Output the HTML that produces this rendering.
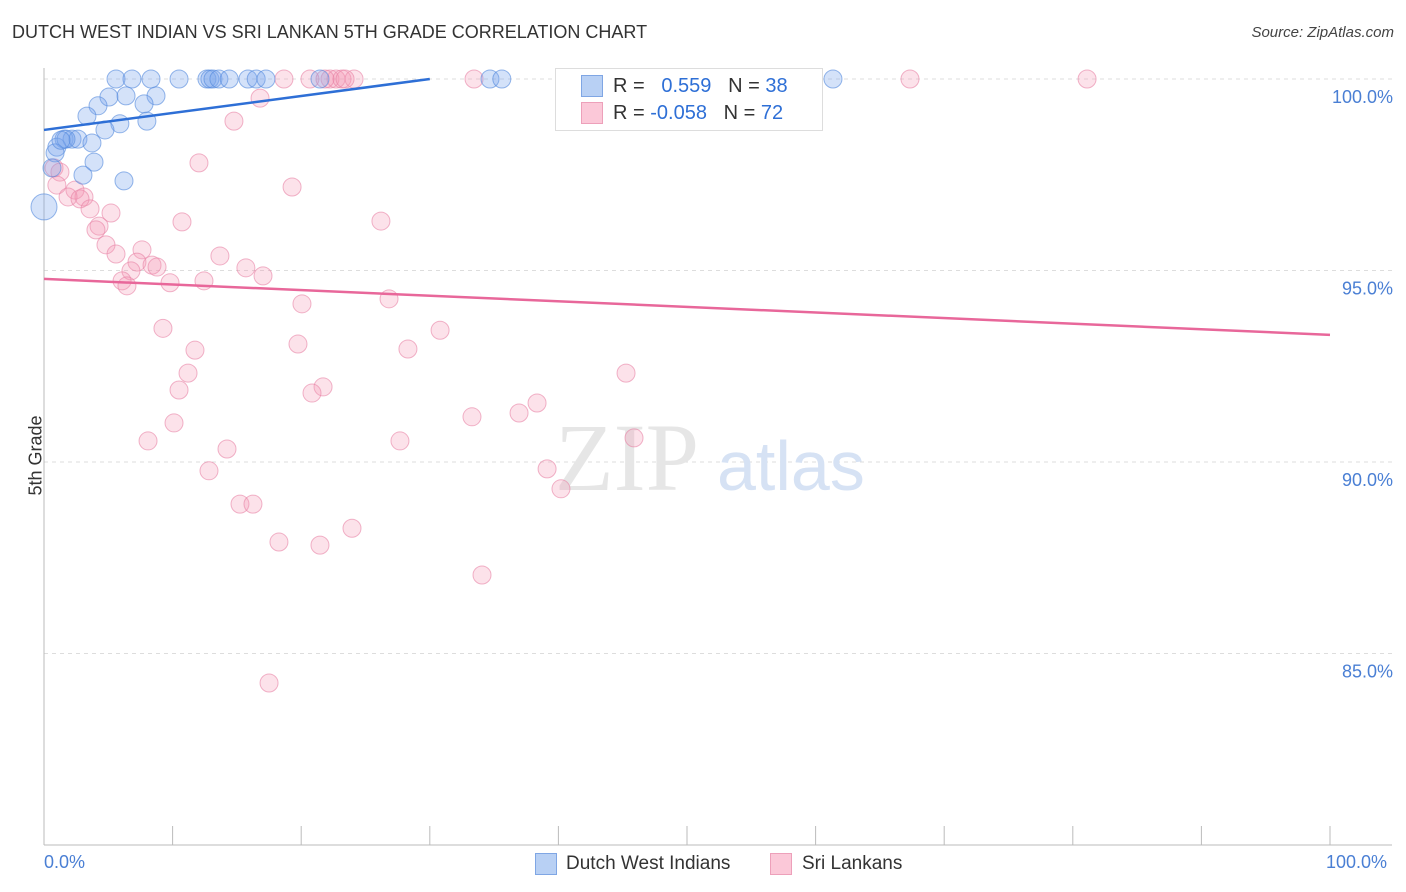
<!DOCTYPE html>
<html><head><meta charset="utf-8"><style>
body{margin:0;background:#fff;font-family:"Liberation Sans",sans-serif}
#wrap{position:relative;width:1406px;height:892px}
.t{position:absolute;white-space:nowrap}
</style></head><body>
<div id="wrap">
<div class="t" style="left:12px;top:22px;font-size:18px;color:#333">DUTCH WEST INDIAN VS SRI LANKAN 5TH GRADE CORRELATION CHART</div>
<div class="t" style="right:12px;top:24px;font-size:15px;color:#444;font-style:italic">Source: ZipAtlas.com</div>
<svg id="svg" width="1406" height="892" style="position:absolute;left:0;top:0"></svg>
</div>
<script>
const yTicks=[100,95,90,85];
const yTickLabels=["100.0%","95.0%","90.0%","85.0%"];
const blueX=[5.6,6.84,8.32,10.5,12.67,12.9,13.14,13.6,14.4,15.86,16.5,17.26,21.46,34.68,35.6,61.35,5.05,6.38,8.71,4.2,7.78,3.34,5.9,8.0,4.74,1.56,2.18,2.64,3.73,1.0,0.86,3.89,3.03,6.22,0.62,0,1.71,1.32];
const blueY=[100,100,100,100,100,100,100,100,100,100,100,100,100,100,100,100,99.53,99.56,99.56,99.3,99.35,99.03,98.83,98.9,98.67,98.43,98.43,98.43,98.33,98.22,98.07,97.83,97.49,97.34,97.68,96.66,98.43,98.4];
const pinkX=[18.66,20.68,22.24,22.71,23.17,24.11,33.44,41.68,67.34,81.11,21.85,23.41,16.8,14.77,12.05,19.29,10.73,26.2,0.78,1.24,1.0,2.41,3.11,1.87,2.8,3.58,5.21,4.28,4.04,4.82,5.6,7.62,7.23,6.76,8.4,8.79,13.68,15.7,17.03,6.07,6.45,9.8,12.44,20.06,26.83,9.25,30.8,11.74,19.75,28.3,11.2,45.26,10.5,21.7,20.84,38.34,33.28,36.94,10.11,8.09,27.68,45.88,14.23,12.83,39.12,40.2,15.24,16.25,18.27,21.46,23.95,34.06,17.5];
const pinkY=[100,100,100,100,100,100,100,100,100,100,100,100,99.5,98.9,97.81,97.18,96.27,96.29,97.68,97.57,97.23,97.1,96.92,96.92,96.87,96.61,96.5,96.16,96.06,95.67,95.43,95.54,95.22,94.99,95.14,95.09,95.38,95.07,94.86,94.73,94.6,94.68,94.73,94.13,94.26,93.49,93.44,92.92,93.08,92.95,92.32,92.32,91.88,91.96,91.8,91.54,91.18,91.28,91.02,90.55,90.55,90.63,90.34,89.77,89.82,89.3,88.9,88.9,87.91,87.83,88.27,87.05,84.23];
const blueTrend=[[0,98.67],[30,100]];
const pinkTrend=[[0,94.78],[100,93.32]];
const X=v=>44+v*12.86, Y=v=>79+(100-v)*38.3;
const s=document.getElementById('svg');const NS='http://www.w3.org/2000/svg';
function mk(t,a,p){const e=document.createElementNS(NS,t);for(const k in a)e.setAttribute(k,a[k]);(p||s).appendChild(e);return e;}
yTicks.forEach((v,i)=>{
 const g=mk('line',{x1:44,x2:1392,y1:Y(v),y2:Y(v),stroke:'#ddd','stroke-dasharray':'4 4'});
 
 
 const t=mk('text',{x:1393,y:Y(v)+24,'text-anchor':'end','font-size':18,fill:'#4a7fd4','font-family':'Liberation Sans'});
 t.textContent=yTickLabels[i];
 
 
});
let ax=mk('line',{x1:44,x2:44,y1:68,y2:845,stroke:'#bbb'});


let bx=mk('line',{x1:44,x2:1392,y1:845,y2:845,stroke:'#bbb'});


for(let i=1;i<=10;i++){const tk=mk('line',{x1:X(i*10),x2:X(i*10),y1:826,y2:845,stroke:'#bbb'});
 
 }
const wm=mk('text',{x:555,y:490,'font-size':96,fill:'#e6e6e6','font-family':'Liberation Serif'});wm.textContent='ZIP';


const wm2=mk('text',{x:717,y:490,'font-size':70,fill:'#d6e2f4','font-family':'Liberation Sans'});wm2.textContent='atlas';


pinkX.forEach((x,i)=>{const c=mk('circle',{cx:X(x),cy:Y(pinkY[i]),r:9,fill:'rgba(244,150,180,0.28)',stroke:'rgba(232,130,165,0.6)'});
 
 });
blueX.forEach((x,i)=>{const c=mk('circle',{cx:X(x),cy:Y(blueY[i]),r:i==35?13:9,fill:'rgba(120,165,235,0.32)',stroke:'rgba(80,135,220,0.6)'});
 
 });
const bl=mk('line',{x1:X(blueTrend[0][0]),y1:Y(blueTrend[0][1]),x2:X(blueTrend[1][0]),y2:Y(blueTrend[1][1]),stroke:'#2e6fd6','stroke-width':2.5});


const pl=mk('line',{x1:X(pinkTrend[0][0]),y1:Y(pinkTrend[0][1]),x2:X(pinkTrend[1][0]),y2:Y(pinkTrend[1][1]),stroke:'#e8679a','stroke-width':2.5});


</script>
<div class="t" style="left:555px;top:68px;width:266px;height:61px;border:1px solid #ddd;background:#fff"></div>
<div class="t" style="left:581px;top:75px;width:20px;height:20px;background:#b8d0f4;border:1px solid #7fa6e4"></div>
<div class="t" style="left:581px;top:102px;width:20px;height:20px;background:#fbc8d8;border:1px solid #eda0ba"></div>
<div class="t" style="left:613px;top:75px;font-size:20px;color:#333">R = &nbsp;&nbsp;<span style="color:#2e6fd6">0.559</span>&nbsp;&nbsp;&nbsp;N = <span style="color:#2e6fd6">38</span></div>
<div class="t" style="left:613px;top:102px;font-size:20px;color:#333">R = <span style="color:#2e6fd6">-0.058</span>&nbsp;&nbsp;&nbsp;N = <span style="color:#2e6fd6">72</span></div>
<div class="t" style="left:-4px;top:445px;font-size:18px;color:#333;transform:rotate(-90deg)">5th Grade</div>
<div class="t" style="left:44px;top:852px;font-size:18px;color:#4a7fd4">0.0%</div>
<div class="t" style="left:1326px;top:852px;font-size:18px;color:#4a7fd4">100.0%</div>
<div class="t" style="left:535px;top:853px;width:20px;height:20px;background:#b8d0f4;border:1px solid #7fa6e4"></div>
<div class="t" style="left:566px;top:853px;font-size:19px;color:#333">Dutch West Indians</div>
<div class="t" style="left:770px;top:853px;width:20px;height:20px;background:#fbc8d8;border:1px solid #eda0ba"></div>
<div class="t" style="left:802px;top:853px;font-size:19px;color:#333">Sri Lankans</div>
</body></html>
